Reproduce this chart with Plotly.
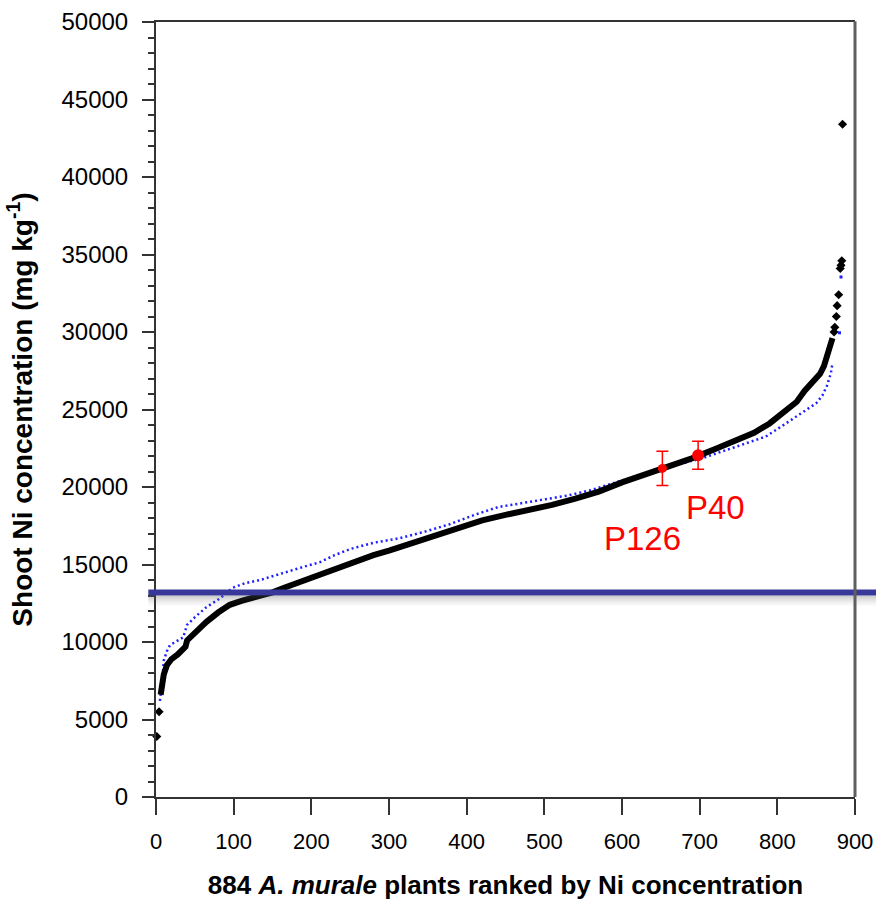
import plotly.graph_objects as go

# ---- data ----
black_low_rank = [1, 4]
black_low_val = [3900, 5500]

black_rank = [6, 8, 10, 14, 20, 28, 35, 38, 40, 50, 65, 80, 95, 110, 121, 135, 150, 165,
              181, 200, 220, 240, 260, 280, 300, 330, 360, 390, 420, 450, 480, 510, 540, 570,
              600, 630, 660, 690, 720, 750, 770, 790, 810, 825, 835, 845, 855, 860, 864, 868, 871]
black_val = [6600, 7300, 7900, 8500, 8900, 9200, 9500, 9700, 10100, 10600, 11300, 11900,
             12400, 12650, 12800, 13000, 13200, 13500, 13800, 14200, 14550, 14950, 15300, 15600,
             15900, 16400, 16850, 17300, 17850, 18200, 18500, 18850, 19250, 19700, 20300, 20800,
             21400, 21850, 22450, 23100, 23500, 24100, 24900, 25500, 26200, 26700, 27300, 27800,
             28500, 29100, 29600]
black_top_rank = [873, 874, 876, 877, 879, 881, 882, 883, 884]
black_top_val = [30000, 30300, 31000, 31700, 32400, 34100, 34300, 34600, 43400]

blue_rank = [5, 8, 10, 14, 18, 25, 35, 40, 50, 65, 82, 99, 115, 134, 150, 168, 190, 211, 230, 250,
             280, 314, 345, 378, 410, 440, 470, 500, 530, 560, 600, 630, 660, 700, 742, 785, 811,
             837, 850, 858, 864, 869, 871]
blue_val = [6200, 7400, 8800, 9400, 9800, 10000, 10300, 11100, 11600, 12250, 12800, 13500, 13800,
            14000, 14250, 14500, 14850, 15150, 15600, 16000, 16400, 16700, 17100, 17600, 18200,
            18700, 18950, 19200, 19450, 19800, 20400, 20850, 21350, 21800, 22500, 23250, 24100,
            24950, 25400, 25900, 26550, 27350, 28000]
blue_top_rank = [880, 882]
blue_top_val = [29950, 33550]

lines_name = ["P126", "P40"]
lines_rank = [652, 698]
lines_val = [21200, 22050]
lines_err = [1100, 900]

threshold = 13200

x_ticks = list(range(0, 901, 100))
y_ticks = list(range(0, 50001, 5000))

FONT = "Liberation Sans, Arial, sans-serif"

fig = go.Figure()

fig.add_trace(go.Scatter(x=blue_rank, y=blue_val, mode="lines",
                         line=dict(color="#1f1fff", width=2.5, dash="2px,3px"),
                         showlegend=False))
fig.add_trace(go.Scatter(x=blue_top_rank, y=blue_top_val, mode="markers",
                         marker=dict(color="#1f1fff", size=3, symbol="square"),
                         showlegend=False))
fig.add_trace(go.Scatter(x=black_rank, y=black_val, mode="lines",
                         line=dict(color="black", width=6),
                         showlegend=False))
fig.add_trace(go.Scatter(x=black_low_rank + black_top_rank, y=black_low_val + black_top_val,
                         mode="markers", cliponaxis=False,
                         marker=dict(color="black", size=7, symbol="diamond"),
                         showlegend=False))

sizes = [9, 12]
for i in range(len(lines_name)):
    fig.add_trace(go.Scatter(
        x=[lines_rank[i]], y=[lines_val[i]], mode="markers",
        marker=dict(color="#ff0000", size=sizes[i]),
        error_y=dict(type="data", array=[lines_err[i]], color="#ff0000", thickness=1.5, width=6),
        showlegend=False))

fig.add_annotation(x=626, y=16700, text=lines_name[0], showarrow=False,
                   font=dict(family=FONT, size=33, color="#ff0000"))
fig.add_annotation(x=720, y=18700, text=lines_name[1], showarrow=False,
                   font=dict(family=FONT, size=33, color="#ff0000"))

# threshold line with soft shadow
shadow_op = [0.30, 0.22, 0.15, 0.09, 0.05]
for k, op in enumerate(shadow_op):
    fig.add_shape(type="rect", xref="paper", x0=-0.011, x1=1.05, yref="y",
                  ysizemode="pixel", yanchor=threshold, y0=-3 - 2 * k, y1=-5 - 2 * k,
                  fillcolor="rgba(90,90,90,%.2f)" % op, line=dict(width=0), layer="above")
fig.add_shape(type="rect", xref="paper", x0=-0.011, x1=1.05, yref="y",
              ysizemode="pixel", yanchor=threshold, y0=-3, y1=3,
              fillcolor="#38389a", line=dict(width=0), layer="above")

# right border
fig.add_shape(type="line", xref="paper", yref="paper", x0=1, x1=1, y0=0, y1=1.001,
              line=dict(color="#5f5f5f", width=3), layer="above")

fig.update_layout(
    width=876, height=914,
    margin=dict(l=156, r=21, t=22, b=117),
    paper_bgcolor="white", plot_bgcolor="white",
    font=dict(family=FONT, color="black"),
    xaxis=dict(range=[0, 900], tickvals=x_ticks, ticktext=[str(v) for v in x_ticks],
               automargin=False, ticklabeloverflow="allow",
               ticks="outside", ticklen=16, tickwidth=1.5, tickcolor="#333",
               showline=True, linecolor="#333", linewidth=2, mirror=True,
               showgrid=False, zeroline=False, tickfont=dict(size=22),
               ticklabelstandoff=8,
               title=dict(text="<b>884 <i>A. murale</i> plants ranked by Ni concentration</b>",
                          font=dict(size=26), standoff=22)),
    yaxis=dict(range=[0, 50000], tickvals=y_ticks, ticktext=[str(v) for v in y_ticks],
               automargin=False,
               ticks="outside", ticklen=12, tickwidth=1.5, tickcolor="#333",
               minor=dict(dtick=1000, ticks="outside", ticklen=6, tickwidth=1.5, tickcolor="#333"),
               showline=True, linecolor="#333", linewidth=2,
               showgrid=False, zeroline=False, tickfont=dict(size=24),
               ticklabelstandoff=9,
               title=dict(text="<b>Shoot Ni concentration (mg kg<sup>-1</sup>)</b>",
                          font=dict(size=28), standoff=21)),
)

fig.write_html("out.html", config={"displayModeBar": False},
               post_script="document.body.style.margin='0';document.body.style.overflow='hidden';")
